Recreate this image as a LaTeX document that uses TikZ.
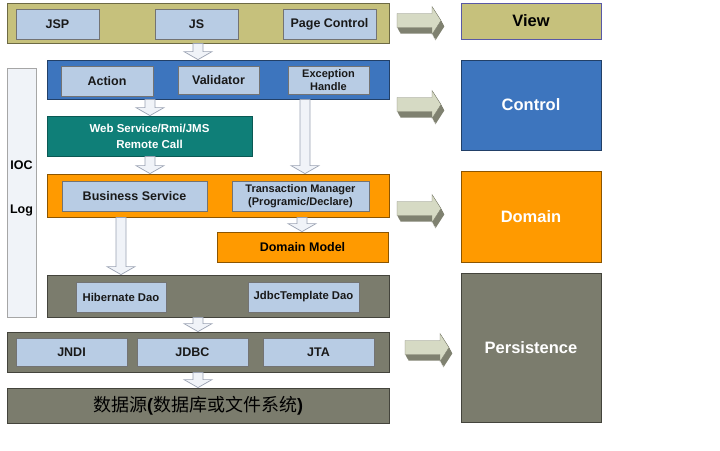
\documentclass[tikz,border=0pt]{standalone}
\usepackage{fontspec}
\setmainfont{Liberation Sans}
\newfontfamily\cjk{Noto Sans CJK SC}
\usetikzlibrary{calc}
\definecolor{viewc}{HTML}{C6C17C}
\definecolor{ctrlc}{HTML}{3D75BE}
\definecolor{domc}{HTML}{FF9A00}
\definecolor{persc}{HTML}{7B7C6D}
\definecolor{webc}{HTML}{0F7F78}
\definecolor{itemc}{HTML}{B8CCE4}
\definecolor{hollowc}{HTML}{F0F3F8}
\definecolor{hollowline}{HTML}{9AA2B2}
\definecolor{arrlight}{HTML}{D6DAC4}
\definecolor{arrdark}{HTML}{7F8170}

\tikzset{
  band/.style={draw=#1!55!black, fill=#1, line width=0.8pt, inner sep=0pt},
  item/.style={draw=black!55, fill=itemc, line width=0.7pt, inner sep=0pt, text=black!90},
  hollow/.style={draw=hollowline, fill=hollowc, line width=0.7pt},
  big/.style={font=\bfseries\fontsize{16.5}{18}\selectfont}
}

% block arrow from the bottom of #2 to the top of #3 at x = #1
\newcommand{\downarr}[3]{%
  \draw[hollow] let \p1=(#1,0), \p2=(#2.south), \p3=(#3.north) in
    (\x1-5pt,\y2) -- (\x1+5pt,\y2) -- (\x1+5pt,\y3+8pt) -- (\x1+14pt,\y3+8pt)
    -- (\x1,\y3) -- (\x1-14pt,\y3+8pt) -- (\x1-5pt,\y3+8pt) -- cycle;}

\begin{document}
\begin{tikzpicture}[x=1pt,y=-1pt, font=\bfseries\fontsize{12.5}{14}\selectfont]
    \useasboundingbox (0,0) rectangle (720,450);
    % --- VIEW ---
    \node[band=viewc, minimum width=382pt, minimum height=40pt] (viewband) at (198,23) {};
    \node[item, minimum width=83pt, minimum height=30pt] (jsp) at (57.5,24) {JSP};
    \node[item, minimum width=83pt, minimum height=30pt] (js) at (196.5,24) {JS};
    \node[item, minimum width=93pt, minimum height=30pt] (page) at (329.5,24) {Page Control};

    % --- CONTROL ---
    \node[band=ctrlc, minimum width=342pt, minimum height=39pt] (ctrlband) at (218,79.5) {};
    \node[item, minimum width=92pt, minimum height=30pt] (action) at (107,81) {Action};
    \node[item, minimum width=81pt, minimum height=28pt] (valid) at (218.5,80) {Validator};
    \node[item, minimum width=81pt, minimum height=28pt, align=center,
          font=\bfseries\fontsize{11}{13}\selectfont] (except) at (328.5,80) {Exception\\Handle};
    \node[draw=webc!70!black, fill=webc, line width=0.8pt, inner sep=0pt, text=white,
          minimum width=205pt, minimum height=40pt, align=center,
          font=\bfseries\fontsize{11.5}{16}\selectfont] (web) at (149.5,136) {Web Service/Rmi/JMS\\Remote Call};

    % --- IOC / LOG ---
    \node[draw=black!35, fill=hollowc, line width=0.7pt, minimum width=29pt, minimum height=249pt] (iocbar) at (21.5,192.5) {};
    \node (ioc) at (21.5,165) {IOC};
    \node (log) at (21.5,211) {Log};

    % --- DOMAIN ---
    \node[band=domc, minimum width=342pt, minimum height=43pt] (domband) at (218,195.5) {};
    \node[item, minimum width=145pt, minimum height=30pt] (busi) at (134.5,196) {Business Service};
    \node[item, minimum width=137pt, minimum height=30pt, align=center,
          font=\bfseries\fontsize{11}{13}\selectfont] (trans) at (300.5,196) {Transaction Manager\\(Programic/Declare)};
    \node[band=domc, minimum width=171pt, minimum height=30pt] (dmodel) at (302.5,247) {Domain Model};

    % --- PERSISTENCE ---
    \node[band=persc, minimum width=342pt, minimum height=42pt] (daoband) at (218,296) {};
    \node[item, minimum width=90pt, minimum height=30pt, font=\bfseries\fontsize{11.3}{13}\selectfont] (hib) at (121,297) {Hibernate Dao};
    \node[item, minimum width=111pt, minimum height=30pt, font=\bfseries\fontsize{11.3}{13}\selectfont] (jdbct) at (303.5,297) {JdbcTemplate Dao};
    \node[band=persc, minimum width=382pt, minimum height=40pt] (apiband) at (198,352) {};
    \node[item, minimum width=111pt, minimum height=28pt] (jndi) at (71.5,352) {JNDI};
    \node[item, minimum width=111pt, minimum height=28pt] (jdbc) at (192.5,352) {JDBC};
    \node[item, minimum width=111pt, minimum height=28pt] (jta) at (318.5,352) {JTA};
    \node[band=persc, minimum width=382pt, minimum height=35pt, text=black,
          font=\cjk\fontsize{18}{20}\selectfont] (dsband) at (198,405.5)
          {数据源{\bfseries\rmfamily(}数据库或文件系统{\bfseries\rmfamily)}};

    % --- down arrows ---
    \downarr{198}{viewband}{ctrlband}
    \downarr{150}{ctrlband}{web}
    \downarr{305}{ctrlband}{domband}
    \downarr{150}{web}{domband}
    \downarr{302}{domband}{dmodel}
    \downarr{121}{domband}{daoband}
    \downarr{198}{daoband}{apiband}
    \downarr{198}{apiband}{dsband}

    % --- RIGHT COLUMN ---
    \node[band=viewc, draw=blue!30!gray, minimum width=140pt, minimum height=36pt, big] (view) at (531,21) {View};
    \node[band=ctrlc, minimum width=140pt, minimum height=90pt, big, text=white] (control) at (531,105) {Control};
    \node[band=domc, minimum width=140pt, minimum height=91pt, big, text=white] (domain) at (531,216.5) {Domain};
    \node[band=persc, minimum width=140pt, minimum height=149pt, big, text=white] (persist) at (531,347.5) {Persistence};

    % 3d arrows
    \def\arrshape{(0,-7) -- (35,-7) -- (35,-14) -- (44,0) -- (35,14) -- (35,7) -- (0,7) -- cycle}
    \foreach \ax/\ay in {397/20.5, 397/104.5, 397/208.5, 405/347.5}{
      \foreach \s in {6,5,4,3,2,1}
        \fill[arrdark, shift={(\ax+0.55*\s,\ay+\s)}] \arrshape;
      \fill[arrlight, draw=arrdark, line width=0.4pt, shift={(\ax,\ay)}] \arrshape;
    }
\end{tikzpicture}
\end{document}
